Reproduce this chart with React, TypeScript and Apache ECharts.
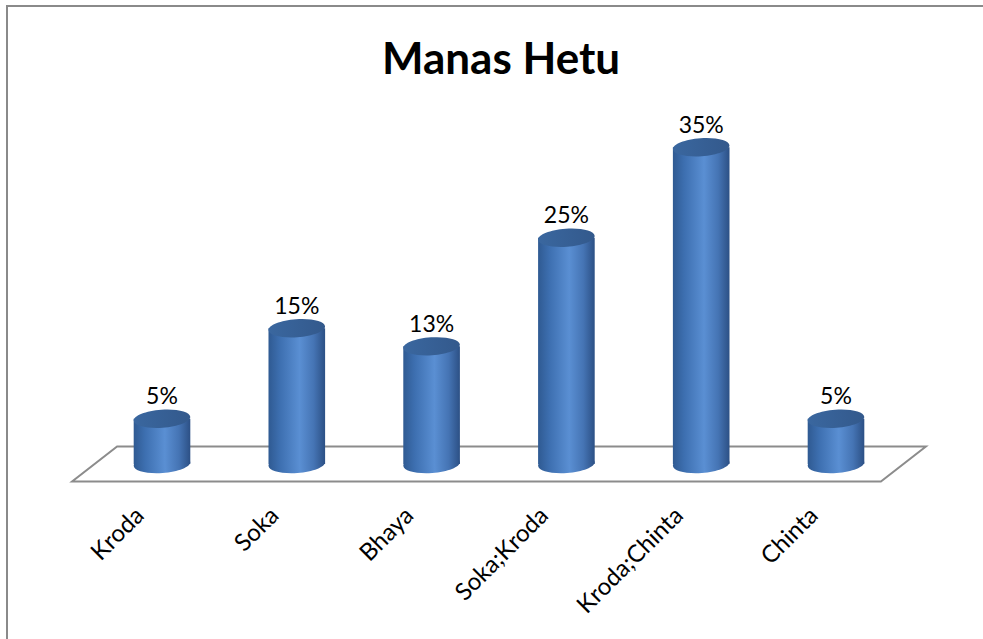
import React, { useEffect, useRef } from "react";
import * as echarts from "echarts";

const categories = ["Kroda", "Soka", "Bhaya", "Soka;Kroda", "Kroda;Chinta", "Chinta"];
const values = [5, 15, 13, 25, 35, 5];
const titleText = "Manas Hetu";

const FONT = "Lato, 'Open Sans', sans-serif";

export default function App() {
  const ref = useRef<HTMLDivElement>(null);
  useEffect(() => {
    if (!ref.current) return;
    const chart = echarts.init(ref.current, null, { renderer: "svg" });
    const bodyGrad = () =>
      new echarts.graphic.LinearGradient(0, 0, 1, 0, [
        { offset: 0, color: "#2f5a92" },
        { offset: 0.2, color: "#3d6fb0" },
        { offset: 0.55, color: "#5a8fd3" },
        { offset: 0.8, color: "#4574b4" },
        { offset: 1, color: "#2c5085" },
      ]);
    const option: any = {
      animation: false,
      backgroundColor: "#ffffff",
      title: {
        text: titleText,
        top: 30,
        left: 496,
        textAlign: "center",
        textStyle: { fontFamily: FONT, fontSize: 44, fontWeight: "bold", color: "#000" },
      },
      graphic: [
        {
          type: "rect",
          shape: { x: 7, y: 6, width: 1100, height: 800 },
          style: { fill: "none", stroke: "#8a8a8a", lineWidth: 2 },
          silent: true,
          z: 0,
        },
      ],
      grid: { left: 94.6, right: 983 - 903.4, top: 102, bottom: 639 - 464 },
      xAxis: {
        type: "category",
        data: categories,
        axisLine: { show: false },
        axisTick: { show: false },
        axisLabel: {
          rotate: 45,
          interval: 0,
          margin: 23,
          padding: [0, 33, 0, 0],
          fontFamily: FONT,
          fontSize: 24,
          color: "#000",
        },
      },
      yAxis: { type: "value", min: 0, max: 40, show: false, splitLine: { show: false } },
      series: [
        {
          type: "custom",
          data: [[0, 0]],
          z: 1,
          silent: true,
          renderItem: (params: any, api: any) => {
            const cs = params.coordSys;
            const baseY = cs.y + cs.height;
            const d = 45 / 2;
            const h = 35 / 2;
            return {
              type: "polygon",
              shape: {
                points: [
                  [cs.x - d, baseY + h],
                  [cs.x + cs.width - d, baseY + h],
                  [cs.x + cs.width + d, baseY - h],
                  [cs.x + d, baseY - h],
                ],
              },
              style: { fill: "none", stroke: "#8c8c8c", lineWidth: 2 },
            };
          },
        },
        {
          type: "custom",
          z: 2,
          data: values.map((v, i) => [i, v]),
          renderItem: (params: any, api: any) => {
            const i = api.value(0);
            const v = api.value(1);
            const top = api.coord([i, v]);
            const base = api.coord([i, 0]);
            const band = api.size([1, 0])[0];
            const rx = band * 0.21;
            const ry = 9;
            const cx = top[0];
            const tilt = 0.07;
            return {
              type: "group",
              children: [
                {
                  type: "ellipse",
                  x: cx,
                  y: base[1],
                  rotation: tilt,
                  shape: { cx: 0, cy: 0, rx, ry },
                  style: { fill: bodyGrad() },
                },
                {
                  type: "rect",
                  shape: { x: cx - rx, y: top[1], width: rx * 2, height: base[1] - top[1] },
                  style: { fill: bodyGrad() },
                },
                {
                  type: "ellipse",
                  x: cx,
                  y: top[1],
                  rotation: tilt,
                  shape: { cx: 0, cy: 0, rx, ry },
                  style: {
                    fill: new echarts.graphic.LinearGradient(0, 0, 1, 0, [
                      { offset: 0, color: "#3a679f" },
                      { offset: 1, color: "#33598c" },
                    ]),
                  },
                },
                {
                  type: "text",
                  x: cx,
                  y: top[1] - ry - 3,
                  style: {
                    text: v + "%",
                    fontFamily: FONT,
                    fontSize: 23,
                    fill: "#000",
                    align: "center",
                    verticalAlign: "bottom",
                  },
                },
              ],
            };
          },
        },
      ],
    };
    chart.setOption(option);
    return () => chart.dispose();
  }, []);
  return (
    <div
      ref={ref}
      style={{ position: "absolute", left: 0, top: 0, width: 983, height: 639, background: "#fff" }}
    />
  );
}
